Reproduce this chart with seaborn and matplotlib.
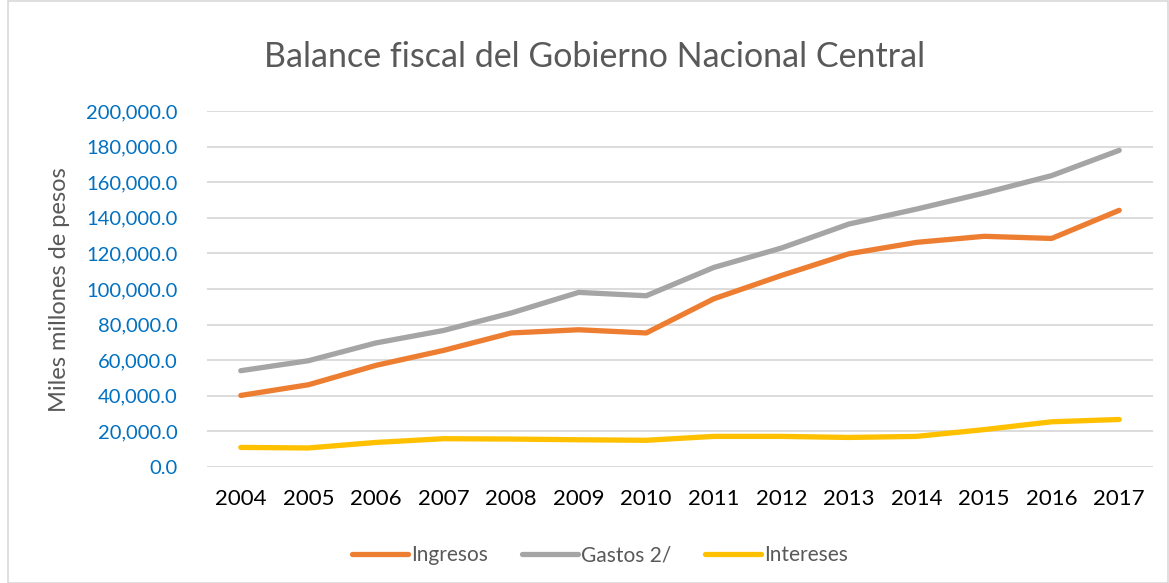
import pandas as pd
import seaborn as sns
import matplotlib.pyplot as plt
from matplotlib.ticker import FuncFormatter
from matplotlib.patches import Rectangle

# values (miles millones de pesos)
years = list(range(2004, 2018))
ingresos = [40200, 46200, 57100, 65500, 75300, 77100, 75300,
            94500, 107600, 119800, 126200, 129600, 128400, 144200]
gastos = [54100, 59700, 69700, 76700, 86500, 98100, 96200,
          112100, 123000, 136500, 144900, 153900, 163700, 177900]
intereses = [11000, 10700, 13800, 15900, 15700, 15300, 15000,
             17200, 17200, 16600, 17200, 21000, 25400, 26700]
series_names = ['Ingresos', 'Gastos 2/', 'Intereses']
colors = ['#ED7D31', '#A5A5A5', '#FFC000']

df = pd.DataFrame({'year': years * 3,
                   'valor': ingresos + gastos + intereses,
                   'serie': [s for s in series_names for _ in years]})

sns.set_style("white")
plt.rcParams['font.family'] = ['Lato', 'DejaVu Sans']

fig = plt.figure(figsize=(11.69, 5.83), dpi=100)
ax = fig.add_axes([207/1169, 1-467/583, 946/1169, 356/583])

sns.lineplot(data=df, x='year', y='valor', hue='serie', palette=colors,
             linewidth=3.8, ax=ax, legend=False, solid_capstyle='round')

ax.set_xlim(2003.5, 2017.5)
ax.set_ylim(0, 200000)
ax.set_yticks(range(0, 200001, 20000))
ax.set_xticks(years)
ax.yaxis.set_major_formatter(FuncFormatter(lambda v, p: '{:,.1f}'.format(v)))
ax.grid(axis='y', color='#D9D9D9', linewidth=1.3)
ax.set_axisbelow(True)
for s in ax.spines.values():
    s.set_visible(False)
ax.tick_params(axis='y', labelsize=14.5, labelcolor='#0070C0', length=0, pad=21)
ax.tick_params(axis='x', labelsize=16, labelcolor='black', length=0, pad=16)
ax.set_xlabel('')
ax.set_ylabel('')

fig.text(60/1169, 1-290/583, 'Miles millones de pesos', rotation=90,
         ha='center', va='center', fontsize=17, color='#595959')
fig.text(595/1169, 1-57/583, 'Balance fiscal del Gobierno Nacional Central',
         ha='center', va='center', fontsize=24.5, color='#595959')

handles = [plt.Line2D([], [], color=c, linewidth=3.8, solid_capstyle='round') for c in colors]
fig.legend(handles, series_names, loc='center', bbox_to_anchor=(600/1169, 1-555/583),
           ncol=3, frameon=False, fontsize=15, labelcolor='#595959',
           handlelength=2.7, handletextpad=0.15, columnspacing=1.6)

fig.patches.append(Rectangle((8/1169, 0), 1 - 9/1169, 1 - 1/583, transform=fig.transFigure,
                             fill=False, edgecolor='#D9D9D9', linewidth=1.2))

fig.savefig('out.png', dpi=100)
